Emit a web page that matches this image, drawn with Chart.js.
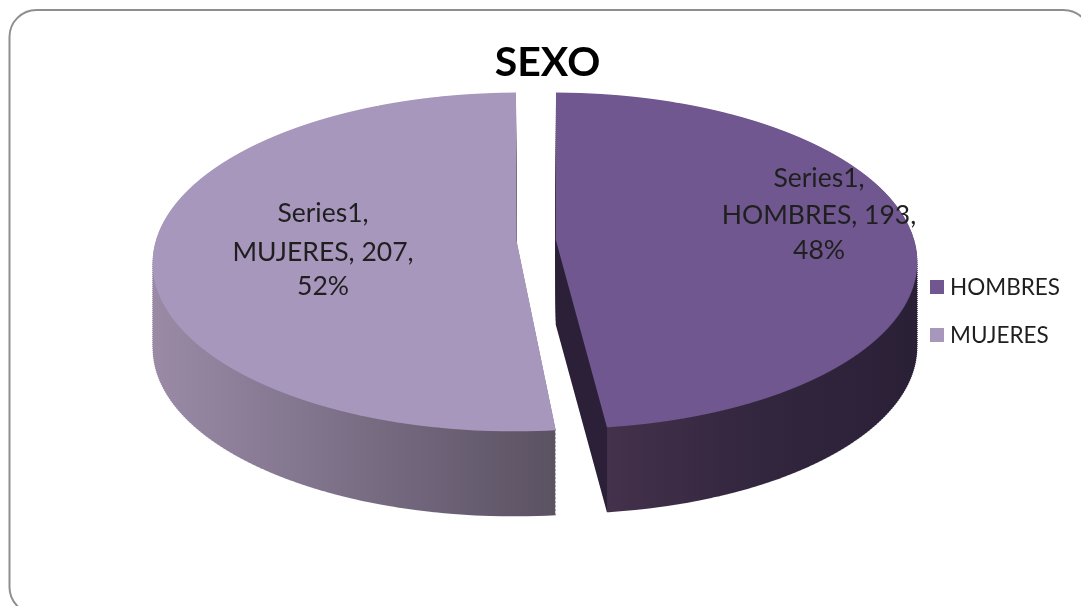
<!DOCTYPE html>
<html>
<head>
<meta charset="utf-8">
<style>html,body{margin:0;padding:0;background:#fff;overflow:hidden}#w{width:1081px;height:606px;position:relative}</style>
<script src="https://cdn.jsdelivr.net/npm/chart.js@4/dist/chart.umd.min.js"></script>
</head>
<body>
<div id="w"><canvas id="c" width="1081" height="606"></canvas></div>
<script>
const titleText = 'SEXO';
const seriesName = 'Series1';
const categories = ['HOMBRES', 'MUJERES'];
const values = [193, 207];
const percents = [48, 52];
const topColors = ['#70578f', '#a897bd'];

// pose of the tilted pie on the page
const CX = 535, CY = 240, NOMINAL_R = 361, TILT = 0.462, DIST = 2843, DEPTH = 85;
const arcShift = [18.5, -18.5];
const radiusTrim = [-2, 0];
const wallStops = [
  [[555,'#2b2037'],[604.5,'#2b2037'],[605,'#44314b'],[750,'#33263f'],[917,'#2a2036']],
  [[152,'#9a8aa6'],[300,'#83768f'],[430,'#6e6378'],[553,'#5b5262']]
];
const labelCentres = [[819,[178,215,250]],[323,[213,252,286]]];
const LABEL_FONT = '26.5px Lato';

function stripRange(u){ return u/(TILT+u/DIST); }

function drawStrip(ctx, arc, i, y1, y2, shift, fill){
  const Y1 = stripRange(y1-CY-shift), Y2 = stripRange(y2-CY-shift);
  const s = 1/(1-(Y1+Y2)/2/DIST);
  const ky = (y2-y1)/(Y2-Y1);
  const clone = Object.create(arc);
  clone.outerRadius = arc.outerRadius + radiusTrim[i];
  clone.options = Object.assign({}, arc.options, {backgroundColor: fill, borderWidth: 0});
  ctx.save();
  ctx.beginPath();
  ctx.rect(0, y1, 1081, y2-y1);
  ctx.clip();
  ctx.transform(s, 0, 0, ky, CX-s*arc.x, y1-ky*(Y1+arc.y));
  clone.draw(ctx);
  ctx.restore();
}

function legendSwatch(color){
  const k = document.createElement('canvas');
  k.width = 14; k.height = 14;
  const g = k.getContext('2d');
  g.fillStyle = color;
  g.fillRect(0,0,14,14);
  return k;
}

const tiltPie = {
  id: 'tiltPie',
  beforeDraw(chart){
    const ctx = chart.ctx;
    ctx.save();
    ctx.strokeStyle = '#8f8f8f';
    ctx.lineWidth = 2;
    ctx.beginPath();
    ctx.roundRect(9.5, 10, 1081, 604, 27);
    ctx.stroke();
    ctx.restore();
  },
  beforeDatasetsDraw(chart){
    const ctx = chart.ctx;
    const arcs = chart.getDatasetMeta(0).data;
    const cache = {};
    const wallFill = (i, y) => {
      const key = i+'_'+y;
      if (cache[key]) return cache[key];
      const u = (y+1)-CY;
      const s = 1/(1-stripRange(u)/DIST);
      const a = arcs[i];
      const st = wallStops[i];
      const toArc = x => (x-CX)/s + a.x - arcShift[i];
      const g = ctx.createLinearGradient(toArc(st[0][0]),0,toArc(st[st.length-1][0]),0);
      const span = st[st.length-1][0]-st[0][0];
      st.forEach(p => g.addColorStop((p[0]-st[0][0])/span, p[1]));
      return cache[key]=g;
    };
    arcs.forEach((arc,i) => {
      for (let h = DEPTH; h > 0; h -= 4) {
        for (let y = 90; y < 524; y += 2) {
          if (y + 2 < 90 + h) continue;
          drawStrip(ctx, arc, i, y, y+2, h, wallFill(i, y-h));
        }
      }
    });
    arcs.forEach((arc,i) => {
      for (let y = 88; y < 436; y++) drawStrip(ctx, arc, i, y, y+1, 0, topColors[i]);
    });
    return false;
  },
  afterDraw(chart){
    const ctx = chart.ctx;
    ctx.save();
    ctx.font = LABEL_FONT;
    ctx.fillStyle = '#1f1f1f';
    ctx.textAlign = 'center';
    ctx.textBaseline = 'middle';
    categories.forEach((cat,i) => {
      const [x, ys] = labelCentres[i];
      const lines = [seriesName+',', cat+', '+values[i]+',', percents[i]+'%'];
      lines.forEach((t,k) => ctx.fillText(t, x, ys[k]));
    });
    ctx.restore();
  }
};

new Chart(document.getElementById('c'), {
  type: 'pie',
  data: {
    labels: categories,
    datasets: [{
      label: seriesName,
      data: values,
      backgroundColor: topColors,
      borderWidth: 0,
      offset: [83, 74],
      clip: false
    }]
  },
  options: {
    responsive: false,
    animation: false,
    radius: 342,
    layout: { padding: { left: 25, right: 11, top: 0, bottom: 234 } },
    plugins: {
      title: { display: true, text: titleText, color: '#000', font: { family: 'Lato', size: 41, weight: 'bold' }, padding: { top: 38, bottom: 4 } },
      tooltip: { enabled: false },
      legend: {
        position: 'right',
        align: 'end',
        labels: {
          font: { family: 'Lato', size: 22.5 },
          color: '#1f1f1f',
          usePointStyle: true,
          pointStyleWidth: 4,
          boxHeight: 14,
          padding: 25.5,
          generateLabels(chart){
            return Chart.overrides.pie.plugins.legend.labels.generateLabels(chart)
              .map((it,i) => Object.assign(it, {pointStyle: legendSwatch(topColors[i])}));
          }
        }
      }
    }
  },
  plugins: [tiltPie]
});
</script>
</body>
</html>
